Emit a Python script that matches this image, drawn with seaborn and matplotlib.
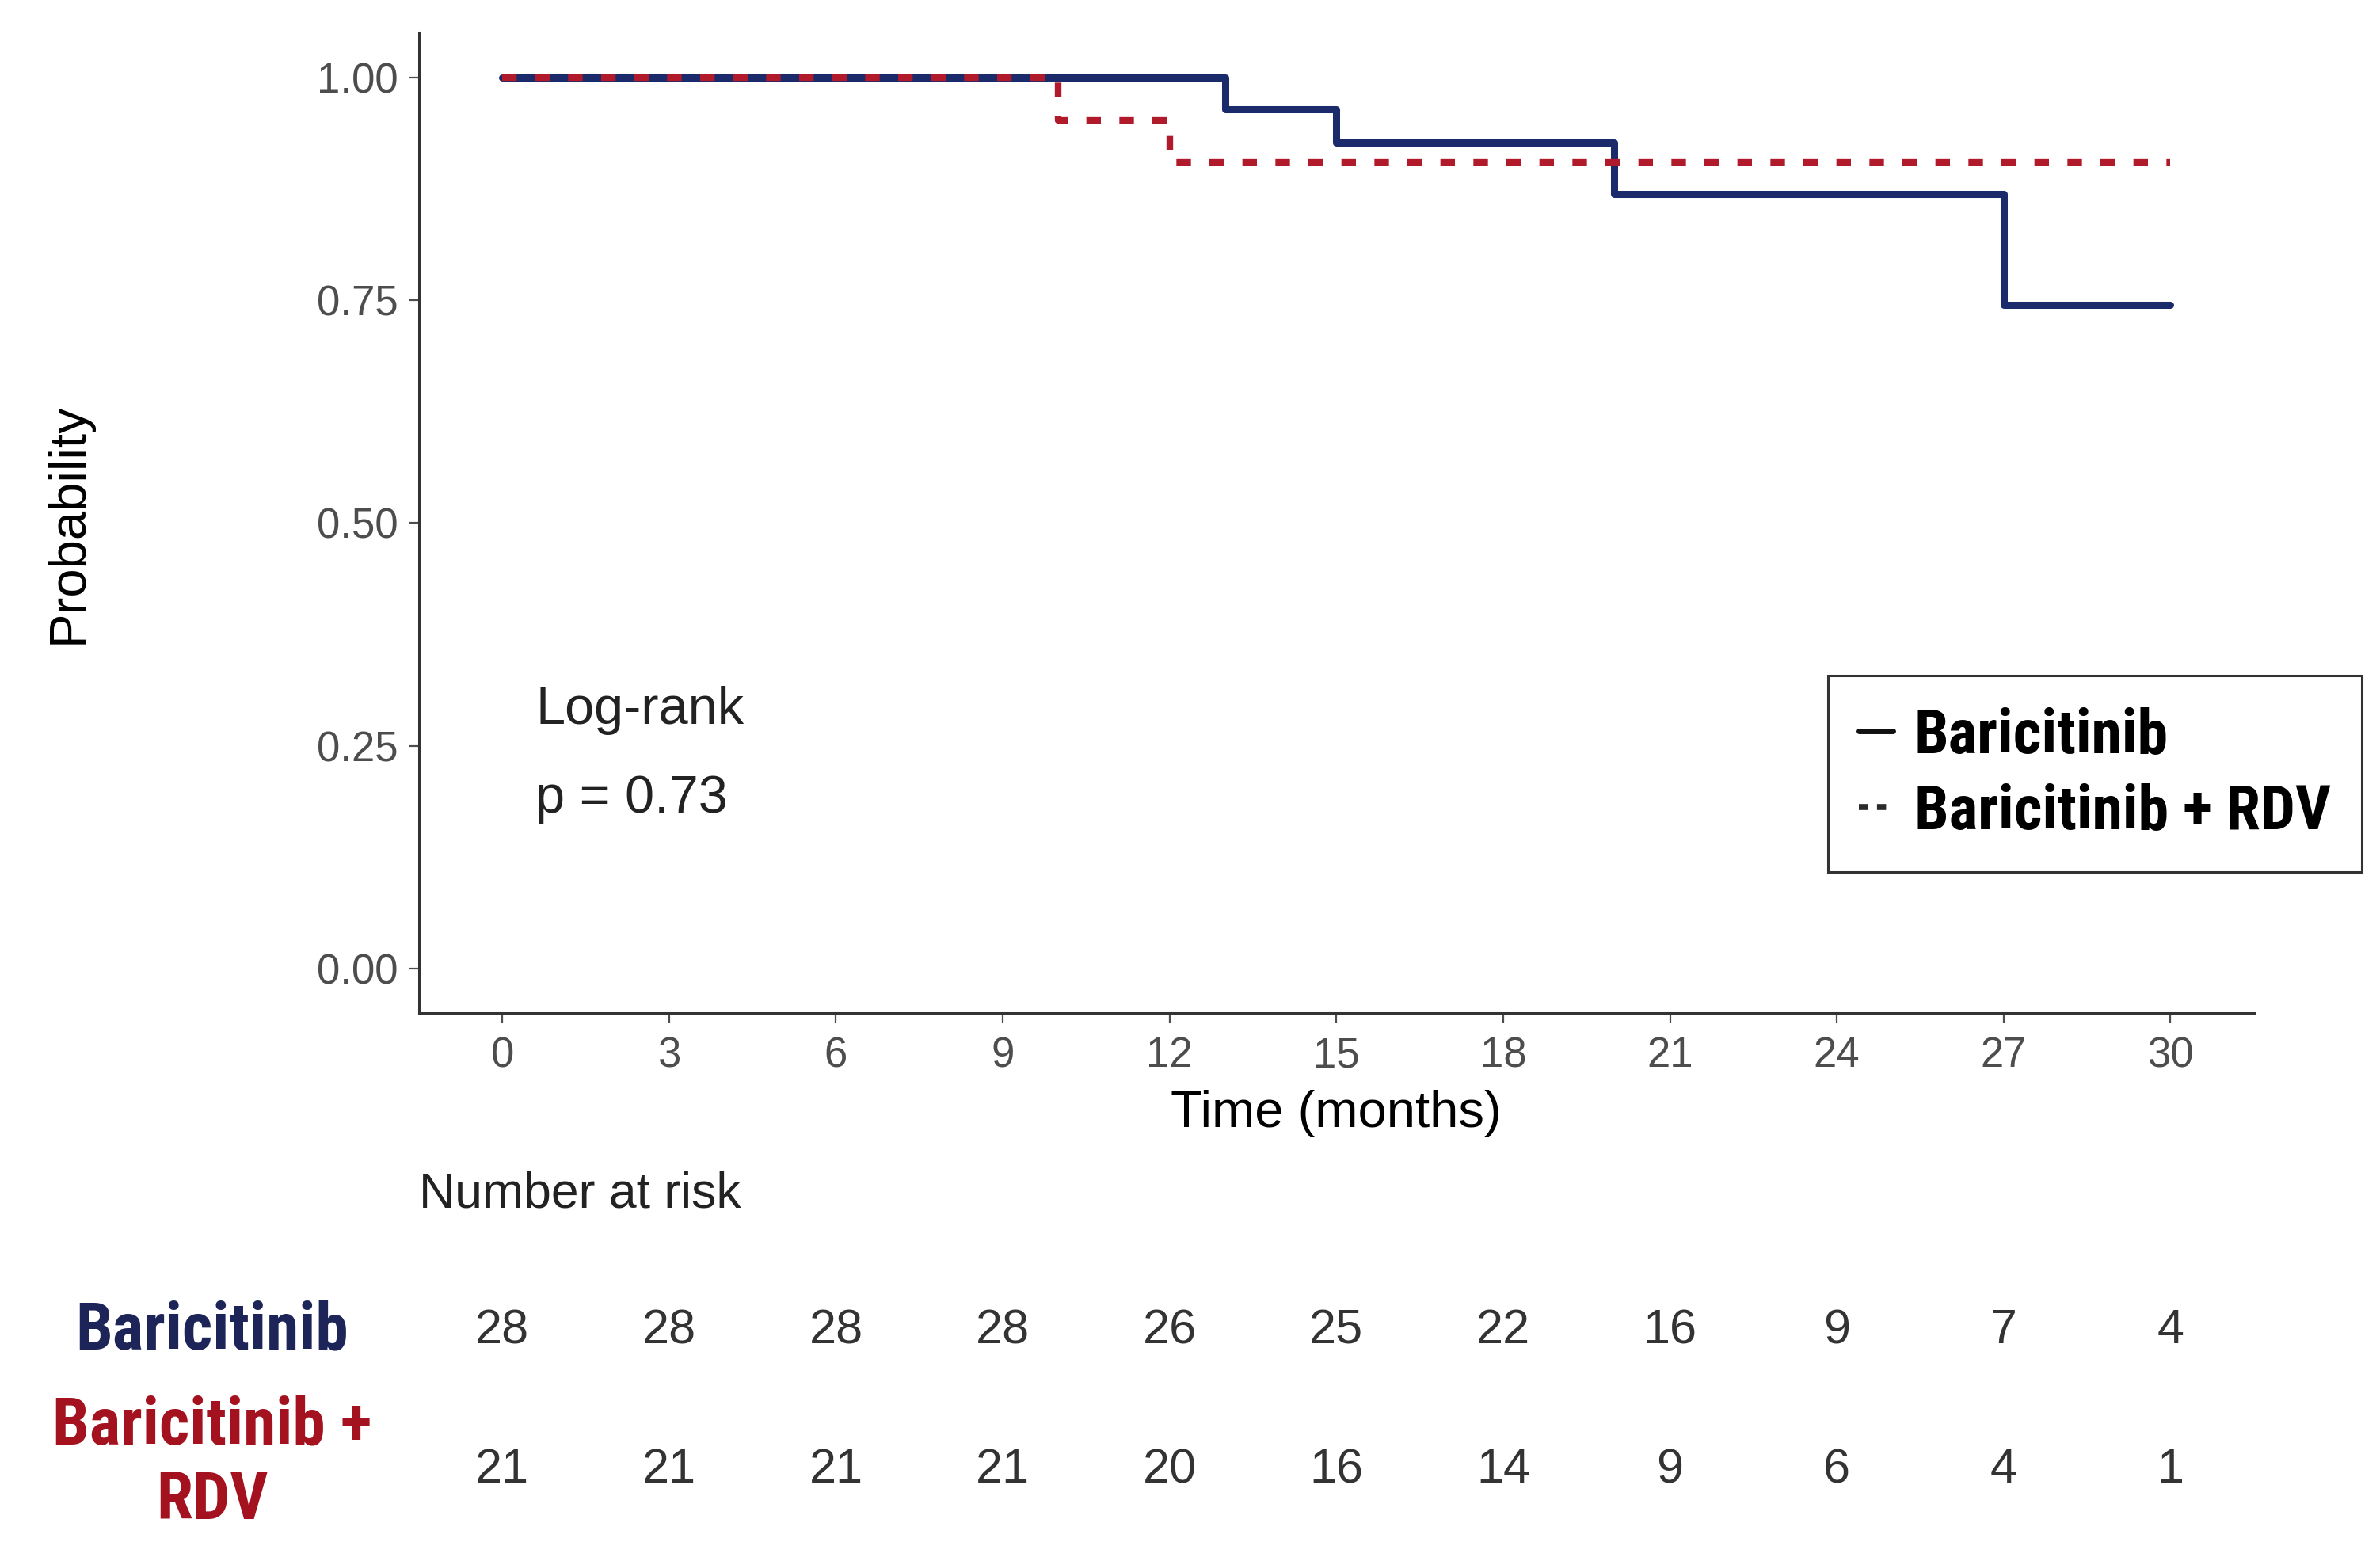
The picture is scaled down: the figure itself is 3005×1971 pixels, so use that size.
import numpy as np
import pandas as pd
import matplotlib
matplotlib.use('Agg')
import matplotlib.pyplot as plt
import matplotlib.transforms as mtransforms
from matplotlib.lines import Line2D
import seaborn as sns

# ---------------- data ----------------
groups = ['Baricitinib', 'Baricitinib + RDV']
bari_time = [0, 13, 15, 20, 27, 30]
bari_surv = [1.000, 0.964, 0.927, 0.869, 0.745, 0.745]
rdv_time = [0, 10, 12, 30]
rdv_surv = [1.000, 0.952, 0.905, 0.905]

risk_times = [0, 3, 6, 9, 12, 15, 18, 21, 24, 27, 30]
risk_bari = [28, 28, 28, 28, 26, 25, 22, 16, 9, 7, 4]
risk_rdv = [21, 21, 21, 21, 20, 16, 14, 9, 6, 4, 1]

y_ticks = [0.00, 0.25, 0.50, 0.75, 1.00]
logrank_p = 0.73

col_bari = '#1B2A6B'
col_rdv = '#B01A2A'

sns.set_theme(style='white')
plt.rcParams['font.family'] = ['Liberation Sans', 'DejaVu Sans']
bold_font = ['Roboto Condensed', 'Roboto', 'Liberation Sans', 'DejaVu Sans']

df = pd.concat([
    pd.DataFrame({'time': bari_time, 'surv': bari_surv, 'group': groups[0]}),
    pd.DataFrame({'time': rdv_time, 'surv': rdv_surv, 'group': groups[1]}),
])

fig = plt.figure(figsize=(30.05, 19.71), dpi=100)
ax = fig.add_axes([0.176, 0.351, 0.771, 0.628])

sns.lineplot(data=df[df['group'] == groups[0]], x='time', y='surv', ax=ax,
             color=col_bari, lw=6.5, drawstyle='steps-post', estimator=None,
             legend=False)
sns.lineplot(data=df[df['group'] == groups[1]], x='time', y='surv', ax=ax,
             color=col_rdv, lw=6, drawstyle='steps-post', estimator=None,
             linestyle=(0, (2.2, 2.8)), dash_capstyle='butt', legend=False)

ax.set_xlim(-1.5, 31.5)
ax.set_ylim(-0.05, 1.05)
ax.set_xticks(risk_times)
ax.set_yticks(y_ticks)
ax.set_yticklabels(['%.2f' % v for v in y_ticks])
ax.tick_params(axis='both', labelsize=38, colors='#4D4D4D', length=9, width=1.6,
               direction='out', left=True, bottom=True)
ax.tick_params(axis='x', pad=12)
ax.tick_params(axis='y', pad=10)
sns.despine(ax=ax)
for side in ['left', 'bottom']:
    ax.spines[side].set_color('#333333')
    ax.spines[side].set_linewidth(2.2)

ax.set_xlabel('Time (months)', fontsize=47, color='black', labelpad=13)
ax.set_ylabel('Probability', fontsize=47, color='black')
ax.yaxis.set_label_coords(-0.178, 0.5)

ax.text(0.6, 0.29, 'Log-rank', fontsize=48, color='#222222', ha='left', va='center')
ax.text(0.6, 0.19, 'p = %.2f' % logrank_p, fontsize=48, color='#222222',
        ha='left', va='center')

handles = [Line2D([], [], color='#111111', lw=5),
           Line2D([], [], color='#2a2a2a', lw=5.5, linestyle=(0, (1.5, 1.5)))]
leg = fig.legend(handles, groups, loc='upper left', bbox_to_anchor=(0.768, 0.567),
                 frameon=True, fancybox=False, edgecolor='black', labelcolor='black',
                 handlelength=0.55, handletextpad=0.35, labelspacing=0.28,
                 borderpad=0.5, borderaxespad=0,
                 prop={'family': bold_font, 'weight': 'bold', 'size': 56})
leg.get_frame().set_linewidth(2.2)

# ---------------- number at risk table ----------------
ax2 = fig.add_axes([0.176, 0.0133, 0.771, 0.1786])
ax2.set_xlim(-1.5, 31.5)
ax2.set_ylim(-0.5, 1.5)
ax2.axis('off')

for t, n in zip(risk_times, risk_bari):
    ax2.text(t, 1, str(n), fontsize=44, color='#333333', ha='center', va='center')
for t, n in zip(risk_times, risk_rdv):
    ax2.text(t, 0, str(n), fontsize=44, color='#333333', ha='center', va='center')

ax2.text(0, 1.98, 'Number at risk', transform=mtransforms.blended_transform_factory(
    ax2.transAxes, ax2.transData), fontsize=45, color='#222222', ha='left', va='center')

blend = mtransforms.blended_transform_factory(fig.transFigure, ax2.transData)
ax2.text(268 / 3005, 1, 'Baricitinib', transform=blend, fontsize=60,
         family=bold_font, weight='black', color='#1C2458', ha='center', va='center')
ax2.text(268 / 3005, 0.05, 'Baricitinib +\nRDV', transform=blend, fontsize=60,
         family=bold_font, weight='black', color='#A3121E', ha='center', va='center',
         multialignment='center', linespacing=1.25)

fig.savefig('out.png', dpi=100, facecolor='white')
